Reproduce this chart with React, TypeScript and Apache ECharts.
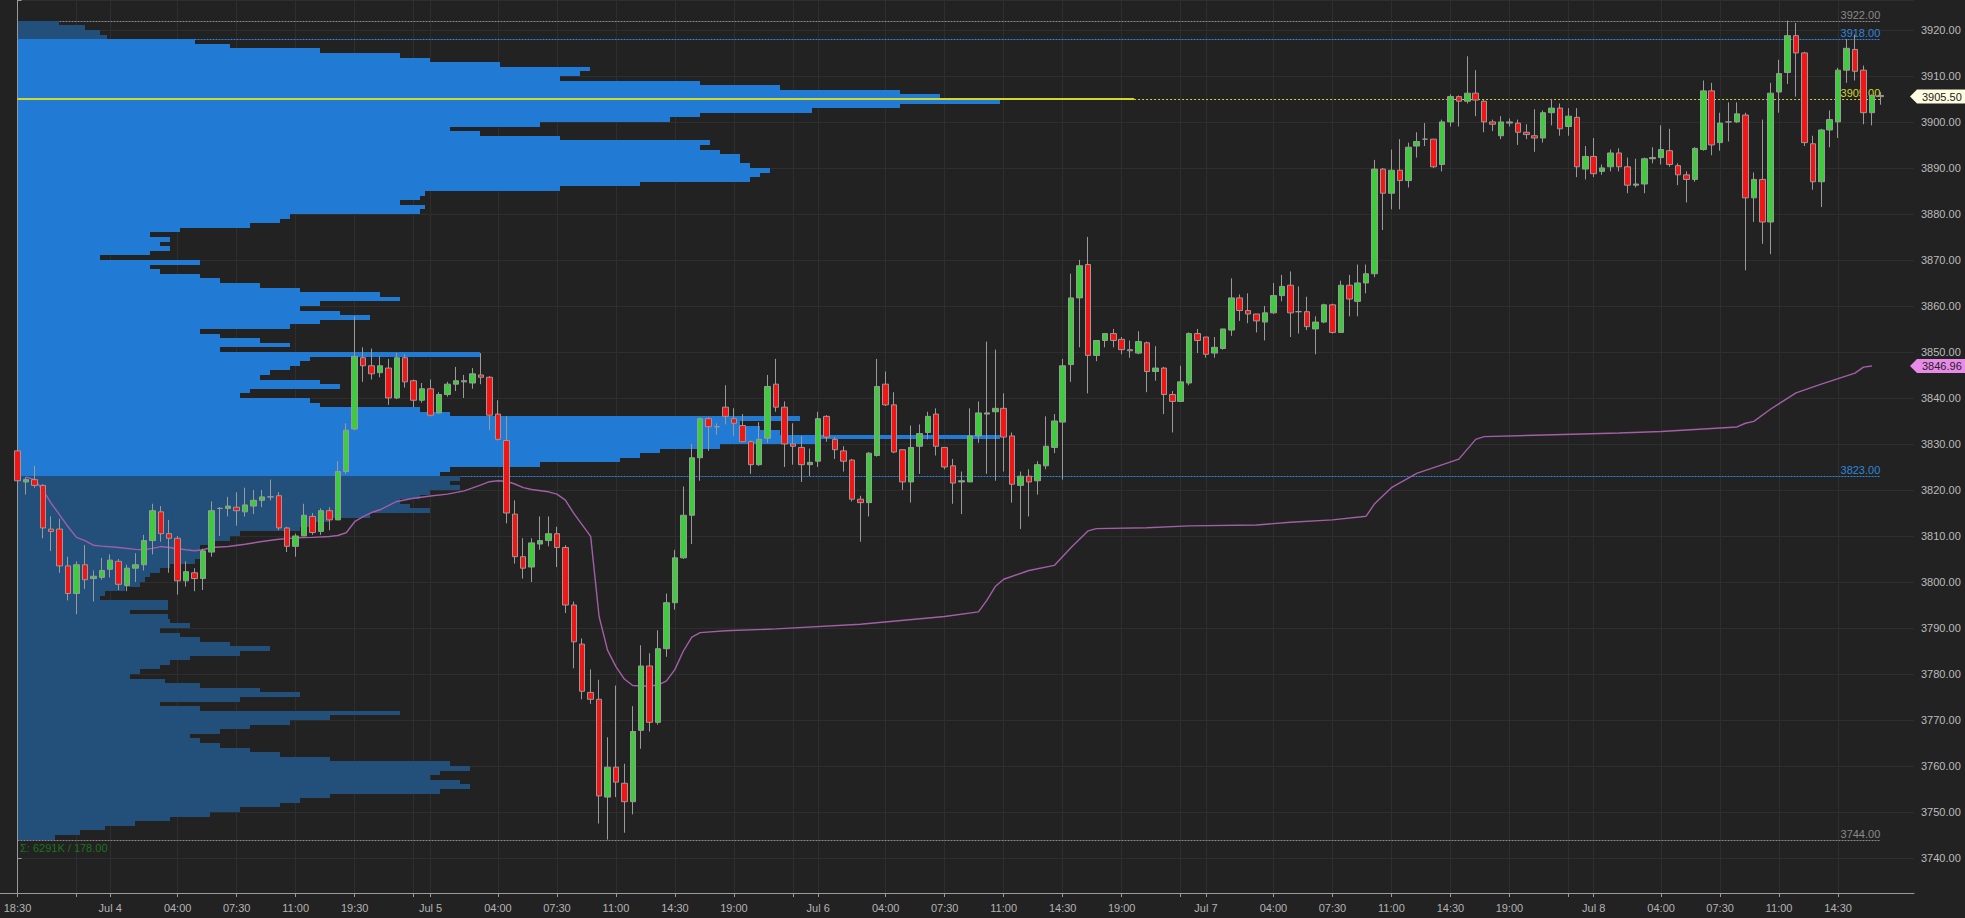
import React, { useEffect, useRef } from 'react';
import * as echarts from 'echarts';

// ---------- data ----------
// bar index -> tick label ('' = tick without label)
const xTicks: [number, string][] = [
  [0, '18:30'], [7, ''], [11, 'Jul 4'], [19, '04:00'], [26, '07:30'], [33, '11:00'], [40, '19:30'], [47, ''],
  [49, 'Jul 5'], [57, '04:00'], [64, '07:30'], [71, '11:00'], [78, '14:30'], [85, '19:00'], [92, ''],
  [95, 'Jul 6'], [103, '04:00'], [110, '07:30'], [117, '11:00'], [124, '14:30'], [131, '19:00'], [138, ''],
  [141, 'Jul 7'], [149, '04:00'], [156, '07:30'], [163, '11:00'], [170, '14:30'], [177, '19:00'], [184, ''],
  [187, 'Jul 8'], [195, '04:00'], [202, '07:30'], [209, '11:00'], [216, '14:30'],
];
const slotCount = 226;

// 30-min bars [open, high, low, close]
const session1: number[][] = [
  [3828.5, 3828.75, 3821, 3822], [3821.75, 3822.75, 3819, 3822.25], [3822.25, 3825.25, 3820.5, 3821], [3821, 3821.25, 3809.5, 3811.75],
  [3811.5, 3814.25, 3806.75, 3811], [3811.5, 3813.75, 3802, 3803.5], [3803.5, 3805.5, 3796, 3797.5], [3797.5, 3804.5, 3793, 3803.75],
  [3803.75, 3808, 3798.5, 3800.5], [3800.75, 3802.5, 3795.75, 3801.25], [3801, 3805.25, 3800.5, 3802.5], [3802.75, 3806, 3801, 3804.75],
  [3804.5, 3805, 3798.25, 3799.5], [3799.25, 3803.75, 3798, 3803], [3803, 3806.25, 3800, 3803.75], [3803.75, 3810.25, 3802.5, 3809],
  [3809, 3817, 3806, 3815.5], [3815.25, 3816.5, 3808.75, 3810.5], [3810.5, 3813.5, 3802, 3809.5], [3809.5, 3810, 3797.25, 3800.25],
  [3800.25, 3804.5, 3799, 3802.25], [3802, 3803, 3798, 3800.75], [3800.75, 3807.25, 3798.25, 3806.75], [3806.5, 3817.5, 3805.5, 3815.5],
  [3816, 3816.25, 3810, 3816], [3816, 3818.5, 3814.25, 3816.5], [3816.25, 3819.5, 3812.25, 3815.5], [3815.25, 3820.5, 3814.25, 3816.75],
  [3816.5, 3820, 3814.75, 3817.75], [3817.75, 3820, 3816.25, 3818.5], [3818.5, 3822.25, 3817.75, 3818.5], [3818.75, 3819.5, 3811.25, 3811.75],
  [3811.75, 3812, 3806.5, 3807.75], [3807.75, 3810.5, 3805.5, 3810], [3810, 3817, 3810, 3814.5], [3814.25, 3815, 3810.25, 3810.75],
  [3811, 3816, 3810.25, 3815.5], [3815.5, 3816.25, 3811.25, 3813.5],
];
const session2: number[][] = [
  [3813.5, 3826.25, 3813.5, 3824], [3824, 3834.5, 3823.5, 3833], [3833.25, 3857.75, 3833, 3849], [3848.75, 3851, 3843.5, 3847],
  [3847, 3850.75, 3844, 3845.25], [3845.5, 3849, 3844.5, 3847], [3846.5, 3848.5, 3838.5, 3840], [3840, 3849.75, 3839.75, 3848.75],
  [3848.75, 3849.5, 3842.25, 3843.5], [3843.75, 3844, 3838, 3839.5], [3839.5, 3843.25, 3839, 3842], [3842, 3844, 3836, 3836.25],
  [3836.75, 3841.25, 3836.5, 3840.75], [3840.75, 3843.5, 3840.25, 3843], [3843, 3846.75, 3841.5, 3843.75], [3843.5, 3845, 3840, 3843.75],
  [3843.25, 3846.5, 3842, 3845.25], [3845, 3849.75, 3843, 3844.5], [3844.5, 3844.75, 3833, 3836.25], [3836.5, 3839.5, 3830.75, 3831],
  [3830.75, 3836, 3812.75, 3815], [3814.75, 3817.75, 3804, 3805.5], [3805.5, 3809.5, 3800.75, 3803], [3803.25, 3809.5, 3800, 3808.5],
  [3808.25, 3814.25, 3807, 3809], [3809, 3814.25, 3807.75, 3810.5], [3810.5, 3812, 3803.25, 3807.5], [3807.5, 3808, 3793.25, 3795],
  [3795, 3795.75, 3781.25, 3787], [3786.5, 3787.75, 3774.5, 3776.25], [3776, 3781, 3773.5, 3774.5], [3774.5, 3778.75, 3747.5, 3753.5],
  [3753.25, 3766.25, 3744, 3759.75], [3759.75, 3777.5, 3753.25, 3756.5], [3756.25, 3760.5, 3745.5, 3752.25], [3752.25, 3773, 3749.5, 3767.5],
  [3767.75, 3786.25, 3763.75, 3781.75], [3781.75, 3784.5, 3767.5, 3769.5], [3769.5, 3789.5, 3769, 3785.5], [3785.5, 3797.5, 3783.75, 3795.5],
  [3795.5, 3807, 3794, 3805.25], [3805.25, 3820.75, 3805, 3814.5], [3814.5, 3830, 3808.25, 3827], [3827, 3835.75, 3822, 3835.5],
  [3835.5, 3835.75, 3828.5, 3833.75], [3833.75, 3834.5, 3832, 3833.75],
];
const session3: number[][] = [
  [3838, 3842.75, 3834.25, 3836], [3835.5, 3837.75, 3831.75, 3834.5], [3834, 3836.5, 3830.5, 3830.5], [3830.5, 3830.75, 3823.5, 3825.5],
  [3825.5, 3834.75, 3825.25, 3831], [3831.25, 3845, 3830.25, 3842.5], [3843, 3848.5, 3837, 3838], [3838, 3839.25, 3825, 3830],
  [3830, 3834.5, 3825.5, 3829.5], [3829.25, 3831.75, 3821.75, 3825.5], [3825.5, 3829, 3823, 3826], [3826.25, 3837, 3825, 3835.5],
  [3836, 3836.25, 3830.5, 3831.5], [3831, 3831.5, 3826.75, 3828.75], [3828.5, 3829.5, 3824, 3826.25], [3826.5, 3826.75, 3817.5, 3818],
  [3818, 3818.75, 3808.75, 3817.25], [3817.25, 3828.25, 3814.25, 3828], [3827.5, 3848.5, 3827.25, 3842.5], [3843, 3845.75, 3838.25, 3838.5],
  [3838.5, 3841.25, 3828, 3828.25], [3828.75, 3828.75, 3820, 3821.75], [3821.75, 3834, 3817.25, 3829.25], [3829.5, 3834.25, 3823.5, 3832.25],
  [3832.5, 3837, 3831, 3836], [3836.5, 3837.75, 3827.5, 3829.5], [3829.25, 3829.25, 3824.5, 3825], [3825.25, 3826.75, 3817, 3821.5],
  [3821.75, 3824, 3814.75, 3822], [3821.75, 3837.75, 3821.75, 3831.75], [3831.75, 3839.25, 3830.25, 3836.75], [3836.5, 3852.25, 3823.5, 3836.75],
  [3837, 3850.5, 3822, 3837.75], [3837.75, 3841, 3824, 3831.5], [3831.75, 3832.5, 3817.25, 3821.25], [3821, 3824, 3811.5, 3823],
  [3823, 3824.5, 3814.25, 3821.75], [3822, 3826.25, 3819, 3825.5], [3825.25, 3836, 3824.5, 3829.5], [3829.25, 3836.5, 3828, 3835],
  [3834.75, 3848.5, 3822.25, 3847], [3847.25, 3867, 3843.5, 3861.75], [3861.75, 3870, 3851, 3868.75], [3869, 3875, 3841, 3849.25],
  [3849.25, 3852.5, 3848, 3852.5], [3852.5, 3854, 3851, 3854],
];
const session4: number[][] = [
  [3854, 3855, 3851, 3852.5], [3852.75, 3853.25, 3849.5, 3850.5], [3850.5, 3852.5, 3848.75, 3850.25], [3849.75, 3854.5, 3849.5, 3852.25],
  [3852, 3852.25, 3841.25, 3845.75], [3845.75, 3851.25, 3843.75, 3846.5], [3846.5, 3846.75, 3836.5, 3840.75], [3840.75, 3841.5, 3832.5, 3839.25],
  [3839.25, 3847, 3839.25, 3843.5], [3843.25, 3854.25, 3842.75, 3854], [3854, 3855, 3849.75, 3852.5], [3853.25, 3853.25, 3848.75, 3849.5],
  [3849.75, 3853.25, 3848.75, 3851], [3850.75, 3855, 3850.5, 3855], [3854.75, 3866, 3853.5, 3861.75], [3861.75, 3862.5, 3856.75, 3859],
  [3859, 3862.75, 3856.25, 3858.25], [3858.25, 3858.25, 3854.25, 3856.75], [3856.5, 3860, 3852.5, 3858.5], [3858.5, 3865, 3858.25, 3862.25],
  [3862.25, 3866.75, 3861, 3864.25], [3864.5, 3867.5, 3853.25, 3858.5], [3858.75, 3864.25, 3854, 3858.75], [3858.75, 3862, 3854.75, 3855.5],
  [3855, 3857.75, 3849.5, 3856.5], [3856.5, 3860.5, 3856.25, 3860.25], [3860.25, 3860.5, 3854, 3854.25], [3854.25, 3865.5, 3854.25, 3864.5],
  [3864.5, 3866.75, 3857.75, 3861.5], [3861, 3869, 3857.75, 3865], [3865, 3869, 3862.75, 3867], [3867, 3891.75, 3866.25, 3889.75],
  [3889.75, 3890, 3876.5, 3884.5], [3884.5, 3894, 3881, 3889.5], [3889.5, 3896.25, 3881, 3887.25], [3887.25, 3895.5, 3885.75, 3894.5],
  [3894.75, 3897.75, 3892.25, 3895.75], [3896.25, 3899.75, 3894.75, 3896.25], [3896.25, 3896.25, 3890, 3890.25], [3890.75, 3900.5, 3889.25, 3900],
  [3900, 3906, 3899, 3905.5], [3905.5, 3905.75, 3899, 3904.5], [3904.5, 3914.25, 3904, 3906.25], [3906.25, 3911.25, 3901.25, 3904.75],
  [3904.5, 3904.75, 3897.75, 3900], [3900, 3900.5, 3898, 3899.5],
];
const session5: number[][] = [
  [3897, 3901.25, 3896.25, 3900], [3899.75, 3900.75, 3899, 3900], [3899.75, 3900.5, 3895, 3897.75], [3897.75, 3899.5, 3896.25, 3897.25],
  [3897, 3902.75, 3893.5, 3896.5], [3896.5, 3902.5, 3895.5, 3902], [3902, 3905, 3899.25, 3903], [3903, 3904, 3897, 3898.5],
  [3899, 3903, 3897, 3901.25], [3901, 3903, 3888, 3890.25], [3889.75, 3894.75, 3887.5, 3892.5], [3892.5, 3896.5, 3888, 3888.75],
  [3889.25, 3890.75, 3888.5, 3890], [3890.25, 3894, 3889.25, 3893.25], [3893.25, 3894.25, 3889.25, 3890.25], [3890.25, 3892.25, 3884.5, 3886.25],
  [3886.25, 3892, 3885.75, 3886.5], [3886.5, 3892.25, 3884.5, 3892], [3892, 3894.5, 3891, 3892.25], [3892.25, 3899.25, 3890.75, 3894],
  [3893.75, 3898.5, 3890.25, 3890.75], [3890.5, 3891, 3886.25, 3888.5], [3888.5, 3889.25, 3882.5, 3887.5], [3887.5, 3894.5, 3887, 3894.25],
  [3894, 3909, 3893.75, 3906.75], [3906.75, 3908.5, 3892.75, 3895], [3895.5, 3902, 3893.75, 3899.75], [3900, 3904.25, 3895.75, 3900],
  [3900, 3904.25, 3899.75, 3901.75], [3901.5, 3902, 3867.75, 3883.5], [3883.5, 3889, 3878.25, 3887.5], [3887.5, 3900.5, 3873.5, 3878.25],
  [3878.25, 3908.5, 3871.25, 3906.25], [3906.5, 3913.5, 3902, 3910.5], [3910.75, 3922, 3908.25, 3918.75], [3918.75, 3921.5, 3905.5, 3915],
  [3915, 3915.25, 3894.75, 3895.5], [3895.25, 3897, 3885.25, 3887], [3887, 3898.5, 3881.5, 3898.25], [3898.25, 3902.5, 3894.5, 3900.5],
  [3900, 3911.75, 3896.5, 3911.25], [3911.25, 3918, 3908.5, 3916], [3915.75, 3919, 3909, 3911], [3911.25, 3912.25, 3899.5, 3902],
  [3902, 3906, 3899.25, 3905.75], [3905.75, 3906.5, 3903.75, 3905.5],
];

// VWAP readings [bar index, value]
const vwap: [number, number][] = [
  [1, 3822.8], [2, 3822.3], [3, 3820.0], [4, 3817.1], [5, 3814.6], [6, 3812.0], [7, 3809.7], [8, 3809.0], [9, 3808.0], [10, 3807.8],
  [12, 3807.5], [14, 3807.1], [15, 3807.0], [16, 3807.3], [17, 3807.7], [18, 3807.5], [20, 3807.0], [21, 3806.8], [22, 3807.0], [23, 3807.5],
  [25, 3807.7], [27, 3808.2], [29, 3808.8], [31, 3809.3], [33, 3809.6], [35, 3809.7], [37, 3809.9], [38, 3810.1], [39, 3810.7], [40, 3813.1],
  [41, 3814.2], [42, 3815.1], [43, 3815.7], [45, 3817.5], [47, 3818.2], [49, 3818.7], [51, 3819.1], [53, 3819.8], [55, 3821.1], [56, 3821.8],
  [57, 3822.0], [58, 3821.9], [59, 3821.3], [60, 3820.5], [61, 3820.1], [63, 3819.6], [64, 3819.1], [65, 3817.8], [66, 3814.9], [67, 3812.4],
  [68, 3809.9], [69, 3792.5], [70, 3785.2], [71, 3781.6], [72, 3778.9], [73, 3777.5], [74, 3777.4], [75, 3777.4], [76, 3777.6], [77, 3778.5],
  [78, 3781.0], [79, 3785.0], [80, 3788.0], [81, 3789.0], [84, 3789.4], [90, 3789.8], [100, 3790.8], [110, 3792.5], [114, 3793.5], [115, 3796.0],
  [116, 3799.0], [117, 3800.6], [120, 3802.5], [123, 3803.6], [125, 3807.5], [127, 3811.1], [128, 3811.6], [134, 3811.8], [139, 3812.2], [147, 3812.4],
  [151, 3813.0], [156, 3813.5], [160, 3814.3], [161, 3817.0], [163, 3820.5], [166, 3823.6], [171, 3826.7], [173, 3831.0], [174, 3831.6], [180, 3831.9],
  [190, 3832.4], [195, 3832.7], [204, 3833.7], [205, 3834.5], [206, 3834.9], [208, 3837.6], [211, 3841.1], [214, 3843.0], [218, 3845.4], [219, 3846.7],
  [220, 3846.96],
];

// volume profile: 1-point bins starting at profileLow (volume units)
const profileLow = 3744;
const profileVol: number[] = [
  38, 63, 88, 118, 153, 193, 223, 263, 283, 313,
  423, 453, 443, 413, 423, 453, 433, 313, 263, 233,
  203, 183, 173, 203, 233, 273, 313, 383, 183, 143,
  223, 283, 243, 183, 148, 113, 123, 143, 153, 173,
  223, 253, 213, 183, 163, 143, 173, 153, 151, 113,
  151, 151, 83, 88, 108, 123, 128, 133, 143, 153,
  178, 183, 188, 183, 198, 213, 223, 283, 293, 313,
  353, 413, 393, 383, 403, 413, 443, 433, 443, 423,
  433, 523, 603, 623, 643, 703, 803, 983, 763, 743,
  723, 783, 433, 403, 303, 293, 223, 233, 323, 303,
  243, 253, 273, 283, 293, 463, 203, 273, 243, 203,
  183, 273, 303, 353, 323, 283, 303, 383, 363, 283,
  243, 203, 183, 143, 133, 183, 83, 133, 153, 143,
  153, 133, 163, 233, 263, 273, 403, 408, 383, 403,
  408, 543, 623, 733, 743, 753, 733, 723, 723, 703,
  683, 693, 543, 463, 433, 523, 653, 683, 795, 883,
  983, 923, 883, 763, 683, 543, 563, 573, 483, 413,
  383, 303, 213, 178, 90, 83, 68, 42,
];
const valueAreaLow = 3823;
const valueAreaHigh = 3918;
const pocPrice = 3905;
const pocVolume = 1117;
const profileAxisMax = 1897;
const profileSummary = 'Σ: 6291K / 178.00';

// horizontal levels
const levelPrices = [3922, 3918, 3905, 3823, 3744];
const levelLabels = ['3922.00', '3918.00', '3905.00', '3823.00', '3744.00'];
const levelStartBar = [0, 0, 132, 0, 0];
const levelEndBar = [221, 221, 221, 221, 221];

// ---------- styles ----------
const BG = '#222222';
const levelColors = ['#8a8a8a', '#2f86dc', '#d2d82a', '#2f86dc', '#8a8a8a'];
const levelDash = [[2, 1], [2, 1], [2, 2], [2, 1], [2, 1]];
const FONT = '"Liberation Sans", Arial, sans-serif';

const W = 1965;
const H = 918;
const GRID = { left: 17.5, right: 51, top: 0, bottom: 25 };

export default function App() {
  const ref = useRef<HTMLDivElement>(null);

  useEffect(() => {
    document.body.style.margin = '0';
    document.body.style.background = BG;
    const chart = echarts.init(ref.current as HTMLDivElement, null, { renderer: 'svg' });

    const bars = [...session1, ...session2, ...session3, ...session4, ...session5];
    const candleData = bars.map(([o, h, l, c]) => [o, c, l, h]);
    const cats = Array.from({ length: slotCount }, (_, i) => String(i));
    const tickMap = new Map<number, string>(xTicks);

    const profileData = profileVol.map((v, k) => [profileLow + k, v]);
    const levelData = levelPrices.map((p, k) => [levelStartBar[k], levelEndBar[k], p]);

    chart.setOption({
      animation: false,
      backgroundColor: BG,
      grid: { ...GRID, containLabel: false, outerBoundsMode: 'none' },
      xAxis: [
        {
          type: 'category',
          data: cats,
          boundaryGap: false,
          axisLine: { show: true, lineStyle: { color: '#9a9a9a', width: 1 } },
          axisTick: {
            show: true,
            length: 4,
            interval: (i: number) => tickMap.has(i),
            lineStyle: { color: '#9a9a9a' },
          },
          axisLabel: {
            show: true,
            interval: (i: number) => !!tickMap.get(i),
            formatter: (_v: string, i: number) => tickMap.get(i) ?? '',
            color: '#b4b4b4',
            fontSize: 11,
            fontFamily: FONT,
            margin: 9,
          },
          splitLine: {
            show: true,
            interval: (i: number) => tickMap.has(i),
            lineStyle: { color: '#2e2e2e', width: 1 },
          },
        },
        { type: 'value', min: 0, max: profileAxisMax, show: false, position: 'top' },
      ],
      yAxis: {
        type: 'value',
        position: 'right',
        min: 3732.4,
        max: 3926.5,
        splitNumber: 20,
        minInterval: 10,
        maxInterval: 10,
        axisLine: { show: true, lineStyle: { color: '#9a9a9a' } },
        axisTick: { show: true, length: 4, lineStyle: { color: '#9a9a9a' } },
        axisLabel: {
          color: '#bcbcbc',
          fontSize: 11,
          fontFamily: FONT,
          margin: 7,
          formatter: (v: number) => (Math.abs(v / 10 - Math.round(v / 10)) < 1e-6 ? v.toFixed(2) : ''),
        },
        splitLine: { show: true, lineStyle: { color: '#2e2e2e' } },
      },
      series: [
        {
          type: 'custom',
          name: 'levels',
          xAxisIndex: 0,
          yAxisIndex: 0,
          z: 1,
          silent: true,
          data: levelData,
          encode: { x: [0, 1], y: 2 },
          renderItem: (params: any, api: any) => {
            const k = params.dataIndex;
            const p0 = api.coord([api.value(0), api.value(2)]);
            const p1 = api.coord([api.value(1), api.value(2)]);
            const y = Math.round(p0[1]) + 0.5;
            return {
              type: 'group',
              children: [
                {
                  type: 'line',
                  shape: { x1: p0[0], y1: y, x2: p1[0], y2: y },
                  style: { stroke: levelColors[k], lineWidth: 1, lineDash: levelDash[k] },
                },
                {
                  type: 'text',
                  x: p1[0],
                  y: y - 1,
                  style: {
                    text: levelLabels[k],
                    fill: levelColors[k],
                    font: `11px ${FONT}`,
                    align: 'right',
                    verticalAlign: 'bottom',
                  },
                },
              ],
            };
          },
        },
        {
          type: 'custom',
          name: 'profile',
          xAxisIndex: 1,
          yAxisIndex: 0,
          z: 2,
          silent: true,
          data: profileData,
          encode: { x: 1, y: 0 },
          renderItem: (_params: any, api: any) => {
            const p = api.value(0);
            const v = api.value(1);
            const a = api.coord([0, p + 1]);
            const b = api.coord([v, p]);
            const inVA = p >= valueAreaLow && p < valueAreaHigh;
            const x0 = Math.round(a[0]);
            const y0 = Math.round(a[1]);
            const y1 = Math.round(b[1]);
            return {
              type: 'rect',
              shape: { x: x0, y: y0, width: Math.round(b[0]) - x0, height: y1 - y0 },
              style: { fill: inVA ? '#217bd4' : '#23507b', stroke: null },
            };
          },
        },
        {
          type: 'custom',
          name: 'poc',
          xAxisIndex: 1,
          yAxisIndex: 0,
          z: 3,
          silent: true,
          data: [[pocVolume, pocPrice]],
          encode: { x: 0, y: 1 },
          renderItem: (_params: any, api: any) => {
            const a = api.coord([0, api.value(1)]);
            const b = api.coord([api.value(0), api.value(1)]);
            const y = Math.round(a[1]);
            return {
              type: 'line',
              shape: { x1: a[0], y1: y, x2: b[0], y2: y },
              style: { stroke: '#d2d82a', lineWidth: 2 },
            };
          },
        },
        {
          type: 'line',
          name: 'vwap',
          xAxisIndex: 0,
          yAxisIndex: 0,
          z: 4,
          silent: true,
          data: vwap,
          symbol: 'none',
          lineStyle: { color: '#a35ea8', width: 1.4 },
        },
        {
          type: 'candlestick',
          name: 'price',
          xAxisIndex: 0,
          yAxisIndex: 0,
          z: 5,
          silent: true,
          barWidth: 6,
          data: candleData,
          itemStyle: {
            color: '#3ccc3c',
            color0: '#f41414',
            borderColor: '#9a9a9a',
            borderColor0: '#9a9a9a',
            borderColorDoji: '#9a9a9a',
            borderWidth: 1,
          },
        },
      ],
    });

    const yOf = (v: number) => chart.convertToPixel({ yAxisIndex: 0 }, v) as number;
    const gx = W - GRID.right;
    const lastPrice = bars[bars.length - 1][3];
    const lastVwap = vwap[vwap.length - 1][1];
    const tag = (v: number, bg: string) => {
      const y = yOf(v);
      return [
        {
          type: 'polygon',
          shape: { points: [[gx - 4, y], [gx + 3, y - 7], [W, y - 7], [W, y + 7], [gx + 3, y + 7]] },
          style: { fill: bg },
          silent: true,
        },
        {
          type: 'text',
          x: gx + 8,
          y,
          style: { text: v.toFixed(2), fill: '#222', font: `11px ${FONT}`, verticalAlign: 'middle', align: 'left' },
          silent: true,
        },
      ];
    };
    chart.setOption({
      graphic: [
        ...tag(lastPrice, '#fdfbe0'),
        ...tag(lastVwap, '#e98ae9'),
        {
          type: 'line',
          shape: { x1: 0, y1: H - GRID.bottom + 0.5, x2: GRID.left, y2: H - GRID.bottom + 0.5 },
          style: { stroke: '#9a9a9a', lineWidth: 1 },
          silent: true,
        },
        {
          type: 'text',
          x: 20,
          y: yOf(profileLow) + 3,
          style: { text: profileSummary, fill: '#1e701e', font: `11px ${FONT}`, verticalAlign: 'top' },
          silent: true,
        },
      ],
    });

    return () => chart.dispose();
  }, []);

  return <div ref={ref} style={{ width: W, height: H }} />;
}
